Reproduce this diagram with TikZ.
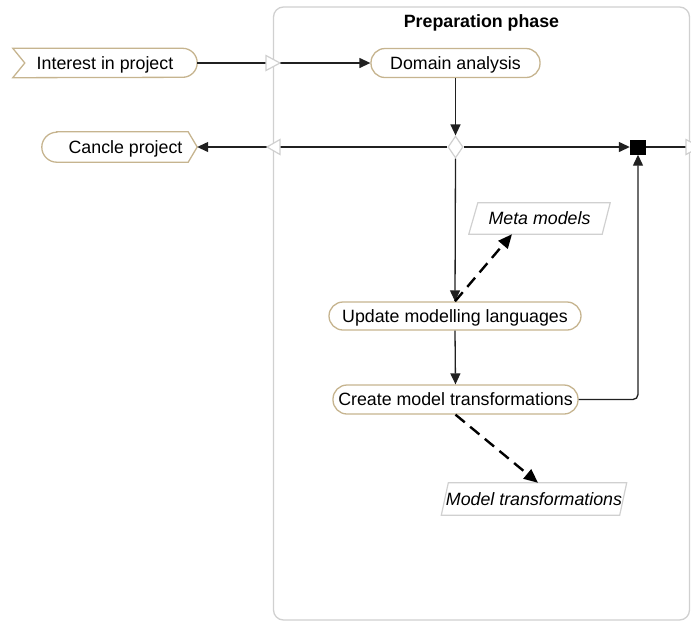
\documentclass[tikz,border=0pt]{standalone}
\usepackage{fontspec}
\setmainfont{Liberation Sans}
\usetikzlibrary{arrows.meta,shapes.geometric}

\definecolor{nodeline}{RGB}{198,180,143}
\definecolor{frameline}{RGB}{208,208,208}
\definecolor{flowline}{RGB}{32,32,32}

\tikzset{
  txt/.style={font=\fontsize{17.8}{21}\selectfont, inner sep=0pt, text height=12.7pt, text depth=0pt},
  action/.style={txt, draw=nodeline, line width=1.3pt, rounded corners=14pt, minimum height=29pt, fill=white},
  sigtext/.style={txt, minimum height=29pt},
  border/.style={draw=nodeline, line width=1.3pt},
  objbox/.style={txt, font=\fontsize{17.8}{21}\selectfont\itshape, minimum height=31pt},
  objline/.style={draw=frameline, line width=1.2pt},
  flow/.style={draw=flowline, line width=1.3pt, -{Triangle[length=11pt,width=10pt]}},
  plainflow/.style={draw=flowline, line width=1.3pt},
  dataflow/.style={draw=black, line width=2.4pt, dash pattern=on 12pt off 7pt, -{Triangle[length=14pt,width=12pt]}},
  transit/.style={draw=frameline, line width=1.2pt, fill=white},
  frame/.style={draw=frameline, line width=1.3pt, rounded corners=10pt},
}

\begin{document}
\begin{tikzpicture}[x=1pt,y=-1pt]
\useasboundingbox (0,0) rectangle (691,622);
\begin{scope}
\clip (0,0) rectangle (691,622);

% phase frame and its title
\draw[frame] (273.5,7) rectangle (689.5,620);
\node[txt, font=\fontsize{17.8}{21}\selectfont\bfseries] (title) at (481.5,21.5) {Preparation phase};

% signal nodes outside the phase
\node[sigtext, minimum width=184pt] (interest) at (105,63) {Interest in project};
\draw[border] (interest.north west) -- ([xshift=-14.5pt]interest.north east)
  arc[start angle=90,end angle=-90,radius=14.5pt] -- (interest.south west)
  -- ([xshift=12pt]interest.west) -- cycle;

\node[sigtext, minimum width=155pt, minimum height=30pt] (cancel) at (119.5,147) {\hspace*{12pt}Cancle project};
\draw[border] ([xshift=15pt]cancel.north west) -- ([xshift=-9pt]cancel.north east)
  -- (cancel.east) -- ([xshift=-9pt]cancel.south east) -- ([xshift=15pt]cancel.south west)
  arc[start angle=270,end angle=90,radius=15pt] -- cycle;

% actions
\node[action, minimum width=169pt] (domain) at (455.5,63) {Domain analysis};
\node[action, minimum width=252pt, minimum height=28pt] (update) at (455,316) {Update modelling languages};
\node[action, minimum width=245pt] (create) at (455.5,399.5) {Create model transformations};

% decision and join
\node[diamond, draw=frameline, line width=1.2pt, fill=white, inner sep=0pt,
      minimum width=15pt, minimum height=22pt] (dec) at (455.5,147) {};
\node[rectangle, fill=black, inner sep=0pt, minimum width=16pt, minimum height=15pt] (join) at (638,147) {};

% objects
\node[objbox, minimum width=141pt] (meta) at (539.5,218.5) {Meta models};
\draw[objline] ([xshift=9pt]meta.north west) -- (meta.north east)
  -- ([xshift=-8pt]meta.south east) -- (meta.south west) -- cycle;
\node[objbox, minimum width=185pt, minimum height=32pt] (model) at (534,499) {Model transformations};
\draw[objline] ([xshift=7pt]model.north west) -- (model.north east)
  -- ([xshift=-7pt]model.south east) -- (model.south west) -- cycle;

% control flow
\coordinate (tout) at (700,147);
\draw[flow] (interest.east) -- (domain.west);
\draw[flow] (domain.south) -- (dec.north);
\draw[flow] (dec.west) -- (cancel.east);
\draw[flow] (dec.east) -- (join.west);
\draw[plainflow] (join.east) -- (tout);
\draw[flow] (dec.south) -- (update.north);
\draw[flow] (update.south) -- (create.north);
\draw[flow, rounded corners=5pt] (create.east) -| (join.south);

% object flow
\draw[dataflow] (update.north) -- ([xshift=-27.5pt]meta.south);
\draw[dataflow] (create.south) -- ([xshift=4pt]model.north);

% transitions across the phase border
\coordinate (tin) at (273,63);
\coordinate (tcan) at (273.5,147);
\draw[transit] ([xshift=-7pt,yshift=7.5pt]tin) -- ([xshift=7pt]tin) -- ([xshift=-7pt,yshift=-7.5pt]tin) -- cycle;
\draw[transit] ([xshift=6.5pt,yshift=7.5pt]tcan) -- ([xshift=-6.5pt]tcan) -- ([xshift=6.5pt,yshift=-7.5pt]tcan) -- cycle;
\draw[transit] ([xshift=-14pt,yshift=7.5pt]tout) -- (tout) -- ([xshift=-14pt,yshift=-7.5pt]tout) -- cycle;
\end{scope}
\end{tikzpicture}
\end{document}
